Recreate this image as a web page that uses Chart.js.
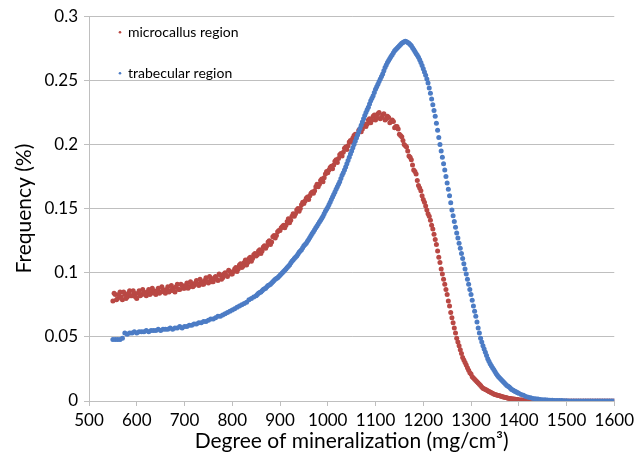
<!DOCTYPE html>
<html>
<head>
<meta charset="utf-8">
<title>Degree of mineralization</title>
<script src="https://cdn.jsdelivr.net/npm/chart.js@4.4.1/dist/chart.umd.min.js"></script>
<style>
  html, body { margin: 0; padding: 0; background: #ffffff; }
  canvas { display: block; }
</style>
</head>
<body>
<canvas id="chart" width="638" height="460"></canvas>
<script>
// Degree of mineralization (mg/cm3), one sample every 5 units
const degree = [
  550, 555, 560, 565, 570, 575, 580, 585, 590, 595,
  600, 605, 610, 615, 620, 625, 630, 635, 640, 645,
  650, 655, 660, 665, 670, 675, 680, 685, 690, 695,
  700, 705, 710, 715, 720, 725, 730, 735, 740, 745,
  750, 755, 760, 765, 770, 775, 780, 785, 790, 795,
  800, 805, 810, 815, 820, 825, 830, 835, 840, 845,
  850, 855, 860, 865, 870, 875, 880, 885, 890, 895,
  900, 905, 910, 915, 920, 925, 930, 935, 940, 945,
  950, 955, 960, 965, 970, 975, 980, 985, 990, 995,
  1000, 1005, 1010, 1015, 1020, 1025, 1030, 1035, 1040, 1045,
  1050, 1055, 1060, 1065, 1070, 1075, 1080, 1085, 1090, 1095,
  1100, 1105, 1110, 1115, 1120, 1125, 1130, 1135, 1140, 1145,
  1150, 1155, 1160, 1165, 1170, 1175, 1180, 1185, 1190, 1195,
  1200, 1205, 1210, 1215, 1220, 1225, 1230, 1235, 1240, 1245,
  1250, 1255, 1260, 1265, 1270, 1275, 1280, 1285, 1290, 1295,
  1300, 1305, 1310, 1315, 1320, 1325, 1330, 1335, 1340, 1345,
  1350, 1355, 1360, 1365, 1370, 1375, 1380, 1385, 1390, 1395,
  1400, 1405, 1410, 1415, 1420, 1425, 1430, 1435, 1440, 1445,
  1450, 1455, 1460, 1465, 1470, 1475, 1480, 1485, 1490, 1495,
  1500, 1505, 1510, 1515, 1520, 1525, 1530, 1535, 1540, 1545,
  1550, 1555, 1560, 1565, 1570, 1575, 1580, 1585, 1590, 1595,
  1600
];

// Frequency (%) - microcallus region (noisy red cloud)
const microcallus = [
  0.078, 0.083, 0.080, 0.085, 0.079, 0.083, 0.081, 0.086, 0.082, 0.084,
  0.080, 0.086, 0.083, 0.085, 0.082, 0.087, 0.084, 0.086, 0.083, 0.088,
  0.085, 0.087, 0.084, 0.089, 0.086, 0.088, 0.085, 0.091, 0.087, 0.090,
  0.088, 0.092, 0.089, 0.091, 0.090, 0.094, 0.090, 0.093, 0.091, 0.096,
  0.092, 0.095, 0.093, 0.097, 0.094, 0.098, 0.096, 0.100, 0.097, 0.101,
  0.099, 0.103, 0.101, 0.106, 0.104, 0.108, 0.106, 0.111, 0.109, 0.114,
  0.113, 0.117, 0.115, 0.120, 0.119, 0.124, 0.122, 0.128, 0.127, 0.132,
  0.133, 0.136, 0.135, 0.140, 0.139, 0.144, 0.144, 0.149, 0.148, 0.153,
  0.154, 0.158, 0.157, 0.162, 0.162, 0.167, 0.167, 0.172, 0.171, 0.177,
  0.178, 0.182, 0.181, 0.187, 0.186, 0.192, 0.191, 0.197, 0.196, 0.202,
  0.202, 0.207, 0.206, 0.211, 0.210, 0.215, 0.214, 0.219, 0.217, 0.222,
  0.219, 0.224, 0.220, 0.223, 0.219, 0.222, 0.217, 0.219, 0.213, 0.214,
  0.208, 0.206, 0.200, 0.198, 0.191, 0.188, 0.180, 0.177, 0.168, 0.164,
  0.157, 0.152, 0.146, 0.141, 0.134, 0.126, 0.117, 0.108, 0.099, 0.091,
  0.083, 0.074, 0.065, 0.057, 0.049, 0.043, 0.037, 0.032, 0.028, 0.024,
  0.021, 0.018, 0.016, 0.014, 0.012, 0.010, 0.009, 0.008, 0.007, 0.006,
  0.005, 0.0045, 0.004, 0.0035, 0.003, 0.0025, 0.002, 0.0018, 0.0015, 0.0012,
  0.001, 0.0009, 0.0007, 0.0006, 0.0005, 0.0004, 0.0003, 0.0003, 0.0002, 0.0001,
  0, 0, 0, 0, 0, 0, 0, 0, 0, 0,
  0, 0, 0, 0, 0, 0, 0, 0, 0, 0,
  0, 0, 0, 0, 0, 0, 0, 0, 0, 0,
  0
];

// Frequency (%) - trabecular region (smooth blue curve)
const trabecular = [
  0.048, 0.048, 0.048, 0.048, 0.049, 0.053, 0.052, 0.053, 0.053, 0.054,
  0.053, 0.054, 0.054, 0.054, 0.055, 0.054, 0.055, 0.055, 0.055, 0.056,
  0.055, 0.056, 0.056, 0.056, 0.057, 0.056, 0.057, 0.057, 0.058, 0.057,
  0.058, 0.058, 0.059, 0.059, 0.060, 0.060, 0.061, 0.061, 0.062, 0.062,
  0.063, 0.064, 0.064, 0.065, 0.066, 0.066, 0.067, 0.068, 0.069, 0.070,
  0.071, 0.072, 0.073, 0.074, 0.075, 0.076, 0.077, 0.079, 0.080, 0.081,
  0.082, 0.084, 0.085, 0.087, 0.088, 0.090, 0.091, 0.093, 0.095, 0.096,
  0.098, 0.100, 0.102, 0.104, 0.106, 0.109, 0.111, 0.113, 0.116, 0.118,
  0.121, 0.123, 0.126, 0.129, 0.132, 0.135, 0.138, 0.141, 0.144, 0.148,
  0.151, 0.155, 0.159, 0.163, 0.167, 0.171, 0.176, 0.180, 0.185, 0.190,
  0.195, 0.200, 0.205, 0.210, 0.215, 0.220, 0.225, 0.229, 0.234, 0.238,
  0.243, 0.247, 0.251, 0.255, 0.260, 0.264, 0.267, 0.270, 0.273, 0.275,
  0.277, 0.279, 0.280, 0.280, 0.279, 0.277, 0.274, 0.271, 0.268, 0.264,
  0.259, 0.254, 0.248, 0.240, 0.231, 0.222, 0.211, 0.200, 0.190, 0.180,
  0.170, 0.160, 0.149, 0.140, 0.131, 0.123, 0.115, 0.107, 0.099, 0.091,
  0.083, 0.074, 0.066, 0.057, 0.049, 0.043, 0.038, 0.033, 0.029, 0.026,
  0.023, 0.020, 0.018, 0.016, 0.014, 0.012, 0.011, 0.009, 0.008, 0.007,
  0.006, 0.005, 0.0045, 0.0035, 0.003, 0.0025, 0.002, 0.0018, 0.0015, 0.0012,
  0.001, 0.0009, 0.0008, 0.0006, 0.0005, 0.0004, 0.0004, 0.0003, 0.0003, 0.0002,
  0.0002, 0, 0, 0, 0, 0, 0, 0, 0, 0,
  0, 0, 0, 0, 0, 0, 0, 0, 0, 0,
  0
];

// Extra samples read in the steep part of both curves (halfway between the 5-unit steps)
const degreeMid = [
  852.5, 857.5, 862.5, 867.5, 872.5, 877.5, 882.5, 887.5, 892.5, 897.5,
  902.5, 907.5, 912.5, 917.5, 922.5, 927.5, 932.5, 937.5, 942.5, 947.5,
  952.5, 957.5, 962.5, 967.5, 972.5, 977.5, 982.5, 987.5, 992.5, 997.5,
  1002.5, 1007.5, 1012.5, 1017.5, 1022.5, 1027.5, 1032.5, 1037.5, 1042.5, 1047.5,
  1052.5, 1057.5, 1062.5, 1067.5, 1072.5, 1077.5, 1082.5, 1087.5, 1092.5, 1097.5,
  1102.5, 1107.5, 1112.5, 1117.5, 1122.5, 1127.5, 1132.5, 1137.5, 1142.5, 1147.5,
  1152.5, 1157.5, 1162.5, 1167.5, 1172.5, 1177.5, 1182.5, 1187.5, 1192.5, 1197.5,
  1202.5, 1207.5, 1212.5, 1217.5, 1222.5, 1227.5, 1232.5, 1237.5, 1242.5, 1247.5,
  1252.5, 1257.5, 1262.5, 1267.5, 1272.5, 1277.5, 1282.5, 1287.5, 1292.5, 1297.5,
  1302.5, 1307.5, 1312.5, 1317.5, 1322.5, 1327.5, 1332.5, 1337.5, 1342.5, 1347.5,
  1352.5, 1357.5, 1362.5, 1367.5, 1372.5, 1377.5, 1382.5, 1387.5, 1392.5, 1397.5
];

const microcallusMid = [
  0.114, 0.118, 0.117, 0.121, 0.121, 0.125, 0.124, 0.129, 0.129, 0.133,
  0.135, 0.137, 0.137, 0.142, 0.141, 0.146, 0.146, 0.150, 0.150, 0.155,
  0.156, 0.159, 0.160, 0.163, 0.164, 0.169, 0.169, 0.173, 0.174, 0.179,
  0.180, 0.183, 0.184, 0.188, 0.189, 0.193, 0.194, 0.198, 0.199, 0.203,
  0.205, 0.208, 0.208, 0.212, 0.212, 0.216, 0.216, 0.220, 0.219, 0.223,
  0.221, 0.225, 0.221, 0.224, 0.220, 0.221, 0.218, 0.218, 0.214, 0.212,
  0.207, 0.203, 0.199, 0.195, 0.190, 0.184, 0.179, 0.172, 0.166, 0.160,
  0.155, 0.149, 0.144, 0.137, 0.130, 0.122, 0.112, 0.103, 0.095, 0.087,
  0.078, 0.069, 0.061, 0.053, 0.046, 0.040, 0.034, 0.030, 0.026, 0.022,
  0.019, 0.017, 0.015, 0.013, 0.011, 0.0095, 0.0085, 0.0075, 0.0065, 0.0055,
  0.0048, 0.0042, 0.0038, 0.0032, 0.0028, 0.0022, 0.0019, 0.0016, 0.0014, 0.0011
];

const trabecularMid = [
  0.083, 0.0845, 0.086, 0.0875, 0.089, 0.0905, 0.092, 0.094, 0.0955, 0.097,
  0.099, 0.101, 0.103, 0.105, 0.1075, 0.110, 0.112, 0.1145, 0.117, 0.1195,
  0.122, 0.1245, 0.1275, 0.1305, 0.1335, 0.1365, 0.1395, 0.1425, 0.146, 0.1495,
  0.153, 0.157, 0.161, 0.165, 0.169, 0.1735, 0.178, 0.1825, 0.1875, 0.1925,
  0.1975, 0.2025, 0.2075, 0.2125, 0.2175, 0.2225, 0.227, 0.2315, 0.236, 0.2405,
  0.245, 0.249, 0.253, 0.2575, 0.262, 0.2655, 0.2685, 0.2715, 0.274, 0.276,
  0.278, 0.2795, 0.2805, 0.2795, 0.278, 0.2755, 0.2725, 0.2695, 0.266, 0.2615,
  0.2565, 0.251, 0.244, 0.2355, 0.2265, 0.2165, 0.2055, 0.195, 0.185, 0.175,
  0.165, 0.1545, 0.1445, 0.1355, 0.127, 0.119, 0.111, 0.103, 0.095, 0.087,
  0.0785, 0.070, 0.0615, 0.053, 0.046, 0.0405, 0.0355, 0.031, 0.0275, 0.0245,
  0.0215, 0.019, 0.017, 0.015, 0.013, 0.0115, 0.010, 0.0085, 0.0075, 0.0065
];

// More microcallus samples in the flat left part, where the red cloud is thick
const degreeLeftMid = [
  552.5, 557.5, 562.5, 567.5, 572.5, 577.5, 582.5, 587.5, 592.5, 597.5,
  602.5, 607.5, 612.5, 617.5, 622.5, 627.5, 632.5, 637.5, 642.5, 647.5,
  652.5, 657.5, 662.5, 667.5, 672.5, 677.5, 682.5, 687.5, 692.5, 697.5,
  702.5, 707.5, 712.5, 717.5, 722.5, 727.5, 732.5, 737.5, 742.5, 747.5,
  752.5, 757.5, 762.5, 767.5, 772.5, 777.5, 782.5, 787.5, 792.5, 797.5,
  802.5, 807.5, 812.5, 817.5, 822.5, 827.5, 832.5, 837.5, 842.5, 847.5
];

const microcallusLeftMid = [
  0.084, 0.079, 0.083, 0.081, 0.085, 0.080, 0.084, 0.082, 0.086, 0.081,
  0.084, 0.082, 0.087, 0.083, 0.085, 0.083, 0.088, 0.084, 0.086, 0.084,
  0.089, 0.085, 0.087, 0.085, 0.090, 0.086, 0.089, 0.087, 0.091, 0.088,
  0.090, 0.088, 0.093, 0.089, 0.092, 0.091, 0.095, 0.091, 0.094, 0.093,
  0.097, 0.093, 0.096, 0.095, 0.099, 0.095, 0.099, 0.098, 0.102, 0.099,
  0.101, 0.104, 0.103, 0.107, 0.105, 0.110, 0.108, 0.112, 0.111, 0.115
];

const xTicks = [500, 600, 700, 800, 900, 1000, 1100, 1200, 1300, 1400, 1500, 1600];
const yTicks = [0, 0.05, 0.1, 0.15, 0.2, 0.25, 0.3];

const RED = '#B94844';
const BLUE = '#4C7CC5';
const GRID = '#BFBFBF';
const FONT = 'Lato, "Open Sans", sans-serif';

// Pair x values with y values
function toPoints(xs, ys) {
  return xs.map((x, i) => ({ x: x, y: ys[i] }));
}

// Small legend drawn inside the plot, top-left
const insideLegend = {
  id: 'insideLegend',
  afterDraw(chart) {
    const ctx = chart.ctx;
    const area = chart.chartArea;
    const rows = [area.top + 16, area.top + 57];
    ctx.save();
    ctx.font = '14px ' + FONT;
    ctx.textBaseline = 'middle';
    chart.data.datasets.forEach((ds, i) => {
      const y = rows[i];
      ctx.fillStyle = ds.backgroundColor;
      ctx.beginPath();
      ctx.arc(area.left + 31, y, 1.3, 0, Math.PI * 2);
      ctx.fill();
      ctx.fillStyle = '#000';
      ctx.fillText(ds.label, area.left + 39, y);
    });
    ctx.restore();
  }
};

const ctx = document.getElementById('chart').getContext('2d');
new Chart(ctx, {
  type: 'scatter',
  data: {
    datasets: [
      {
        label: 'microcallus region',
        data: toPoints(degree, microcallus)
          .concat(toPoints(degreeMid, microcallusMid))
          .concat(toPoints(degreeLeftMid, microcallusLeftMid)),
        backgroundColor: RED,
        borderColor: RED,
        borderWidth: 0,
        pointRadius: 2.5,
        order: 1
      },
      {
        label: 'trabecular region',
        data: toPoints(degree, trabecular).concat(toPoints(degreeMid, trabecularMid)),
        backgroundColor: BLUE,
        borderColor: BLUE,
        borderWidth: 0,
        pointRadius: 2.5,
        order: 0
      }
    ]
  },
  options: {
    responsive: false,
    animation: false,
    layout: { padding: { top: 16, right: 23, left: 0, bottom: 0 } },
    plugins: {
      legend: { display: false },
      tooltip: { enabled: false }
    },
    scales: {
      x: {
        type: 'linear',
        min: 500,
        max: 1600,
        afterBuildTicks: scale => { scale.ticks = xTicks.map(v => ({ value: v })); },
        afterFit: scale => { scale.height = 59; },
        ticks: {
          color: '#000',
          font: { family: FONT, size: 17 },
          padding: 4,
          maxRotation: 0,
          autoSkip: false,
          callback: v => String(v)
        },
        grid: { drawOnChartArea: false, color: GRID, tickLength: 5 },
        border: { color: GRID },
        title: {
          display: true,
          text: 'Degree of mineralization (mg/cm³)',
          color: '#000',
          font: { family: FONT, size: 21 },
          padding: { top: 0, bottom: 6 }
        }
      },
      y: {
        min: 0,
        max: 0.3,
        afterBuildTicks: scale => { scale.ticks = yTicks.map(v => ({ value: v })); },
        afterFit: scale => { scale.width = 89; },
        ticks: {
          color: '#000',
          font: { family: FONT, size: 17 },
          padding: 6,
          autoSkip: false,
          callback: v => String(+v.toFixed(2))
        },
        grid: { color: GRID, tickLength: 5 },
        border: { color: GRID },
        title: {
          display: true,
          text: 'Frequency (%)',
          color: '#000',
          font: { family: FONT, size: 21 },
          padding: { top: 12, bottom: 0 }
        }
      }
    }
  },
  plugins: [insideLegend]
});
</script>
</body>
</html>
